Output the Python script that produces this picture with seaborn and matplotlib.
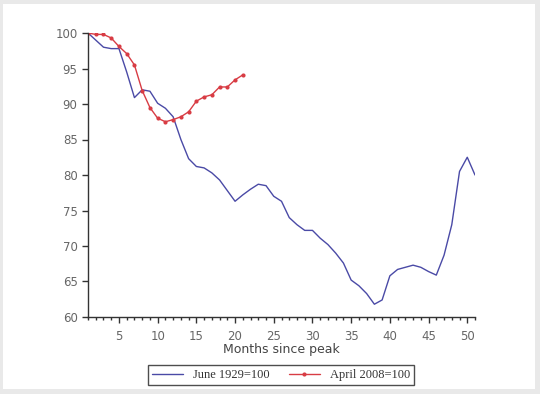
import matplotlib
matplotlib.use("Agg")
import matplotlib.pyplot as plt
import pandas as pd
import seaborn as sns
from matplotlib.patches import Rectangle
from matplotlib.ticker import MultipleLocator

# meses desde o pico
meses_1929 = list(range(1, 52))
indice_1929 = [100, 99.0, 98.0, 97.8, 97.8, 94.5, 90.9, 92.0, 91.8, 90.1,
               89.4, 88.2, 85.0, 82.3, 81.2, 81.0, 80.3, 79.3, 77.8, 76.3,
               77.2, 78.0, 78.7, 78.5, 77.0, 76.3, 74.0, 73.0, 72.2, 72.2,
               71.1, 70.2, 69.0, 67.6, 65.2, 64.4, 63.3, 61.8, 62.4, 65.8,
               66.7, 67.0, 67.3, 67.0, 66.4, 65.9, 68.7, 73.0, 80.5, 82.5,
               80.0]

meses_2008 = list(range(1, 22))
indice_2008 = [100, 99.8, 99.8, 99.3, 98.1, 97.1, 95.5, 91.9, 89.5, 88.0,
               87.5, 87.8, 88.2, 88.9, 90.4, 91.0, 91.3, 92.4, 92.4, 93.4,
               94.1]

rotulo_1929 = "June 1929=100"
rotulo_2008 = "April 2008=100"

sns.set_style("white")

fig = plt.figure(figsize=(5.4, 3.94), dpi=100)
fig.patch.set_facecolor("#e9e9e9")
fig.add_artist(Rectangle((3 / 540, 5 / 394), 532 / 540, 385 / 394,
                         transform=fig.transFigure, facecolor="white",
                         edgecolor="none", zorder=0))

ax = fig.add_axes([88 / 540, 1 - 317 / 394, 387 / 540, 284 / 394])
ax.set_facecolor("none")

df1 = pd.DataFrame({"mes": meses_1929, "valor": indice_1929})
df2 = pd.DataFrame({"mes": meses_2008, "valor": indice_2008})

sns.lineplot(data=df1, x="mes", y="valor", ax=ax, color="#4a4aa6",
             linewidth=1.0, label=rotulo_1929)
sns.lineplot(data=df2, x="mes", y="valor", ax=ax, color="#d83c44",
             linewidth=1.0, marker="o", markersize=3, markeredgewidth=0,
             label=rotulo_2008)

ax.set_xlim(1, 51)
ax.set_ylim(60, 100)
ax.xaxis.set_major_locator(MultipleLocator(5))
ax.xaxis.set_minor_locator(MultipleLocator(1))
ax.yaxis.set_major_locator(MultipleLocator(5))

sns.despine(ax=ax)
for s in ["left", "bottom"]:
    ax.spines[s].set_color("#333333")
    ax.spines[s].set_linewidth(1.0)

ax.tick_params(axis="both", which="major", direction="out", length=4,
               width=1, color="#333333", labelsize=8.5, labelcolor="#666666",
               bottom=True, left=True)
ax.tick_params(axis="x", which="minor", direction="out", length=2.5,
               width=1, color="#333333", bottom=True)
ax.tick_params(axis="x", which="major", pad=5)

ax.set_xlabel("Months since peak", fontsize=9, color="#444444", labelpad=0)
ax.set_ylabel("")

leg = ax.legend(loc="upper center", bbox_to_anchor=(281 / 540, 1 - 359 / 394),
                bbox_transform=fig.transFigure, ncol=2, frameon=True,
                fancybox=False, handlelength=2.5, columnspacing=1.5,
                borderpad=0.3, prop={"family": "Liberation Serif", "size": 9})
leg.get_frame().set_edgecolor("#222222")
leg.get_frame().set_linewidth(1.0)
for t in leg.get_texts():
    t.set_color("#333333")

fig.savefig("out.png", dpi=100, facecolor=fig.get_facecolor())
